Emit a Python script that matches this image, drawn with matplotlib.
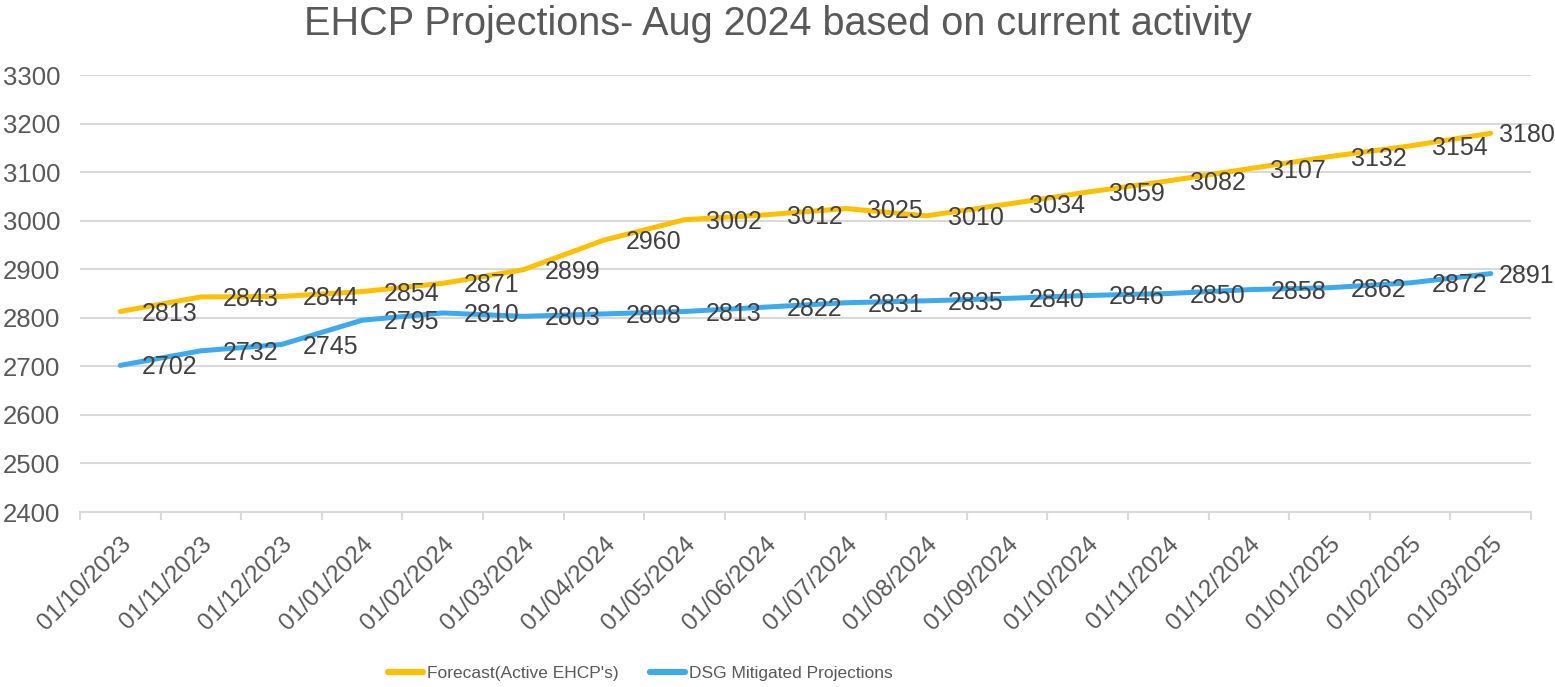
import numpy as np
import matplotlib
matplotlib.use("Agg")
import matplotlib.pyplot as plt

DATES = ["01/10/2023", "01/11/2023", "01/12/2023", "01/01/2024", "01/02/2024",
         "01/03/2024", "01/04/2024", "01/05/2024", "01/06/2024", "01/07/2024",
         "01/08/2024", "01/09/2024", "01/10/2024", "01/11/2024", "01/12/2024",
         "01/01/2025", "01/02/2025", "01/03/2025"]
FORECAST = [2813, 2843, 2844, 2854, 2871, 2899, 2960, 3002, 3012, 3025,
            3010, 3034, 3059, 3082, 3107, 3132, 3154, 3180]
MITIGATED = [2702, 2732, 2745, 2795, 2810, 2803, 2808, 2813, 2822, 2831,
             2835, 2840, 2846, 2850, 2858, 2862, 2872, 2891]
SERIES_NAMES = ["Forecast(Active EHCP's)", "DSG Mitigated Projections"]
TITLE = "EHCP Projections- Aug 2024 based on current activity"

plt.rcParams["font.family"] = ["Liberation Sans", "DejaVu Sans"]

C_YEL = "#FFC000"
C_BLU = "#3FA9EE"
GRID = "#D9D9D9"
TXT = "#595959"
LBL = "#404040"

fig = plt.figure(figsize=(15.55, 6.87), dpi=100)
ax = fig.add_axes([0.0514, 0.2547, 0.9332, 0.6361])

x = np.arange(len(DATES))
for vals, col, name in [(FORECAST, C_YEL, SERIES_NAMES[0]), (MITIGATED, C_BLU, SERIES_NAMES[1])]:
    ax.plot(x, vals, color=col, lw=3.6, solid_capstyle="round", solid_joinstyle="round",
            label=name, zorder=3)
    for xi, v in zip(x, vals):
        # last label is pulled in so it stays inside the chart, as Excel does
        dx = 6 if xi == x[-1] else 15.5
        ax.annotate(str(v), (xi, v), xytext=(dx, -6.5), textcoords="offset points",
                    ha="left", va="baseline", fontsize=18, color=LBL, zorder=4)

ax.set_xlim(-0.5, len(DATES) - 0.5)
ax.set_ylim(2400, 3300)
ax.set_yticks(np.arange(2400, 3301, 100))
ax.yaxis.grid(True, color=GRID, lw=1.5)
ax.set_axisbelow(True)
ax.tick_params(axis="y", length=0, labelsize=18.5, labelcolor=TXT, pad=14)

ax.set_xticks(x)
ax.set_xticklabels(DATES, rotation=45, ha="right", va="top", rotation_mode="anchor",
                   fontsize=17.5, color=TXT)
ax.tick_params(axis="x", which="major", length=0, pad=15)
ax.set_xticks(np.arange(-0.5, len(DATES)), minor=True)
ax.tick_params(axis="x", which="minor", length=6, width=1.5, color=GRID, direction="out")

for s in ["top", "right", "left"]:
    ax.spines[s].set_visible(False)
ax.spines["bottom"].set_color(GRID)
ax.spines["bottom"].set_linewidth(1.5)

fig.suptitle(TITLE, fontsize=28.5, color=TXT, y=0.993)

leg = fig.legend(loc="center", bbox_to_anchor=(0.412, 0.02), ncol=2, frameon=False,
                 handlelength=2.0, handletextpad=0.25, columnspacing=1.8,
                 prop={"size": 12.5})
for t in leg.get_texts():
    t.set_color(TXT)
for h in leg.legend_handles:
    h.set_linewidth(4.5)

fig.savefig("out.png", dpi=100)
